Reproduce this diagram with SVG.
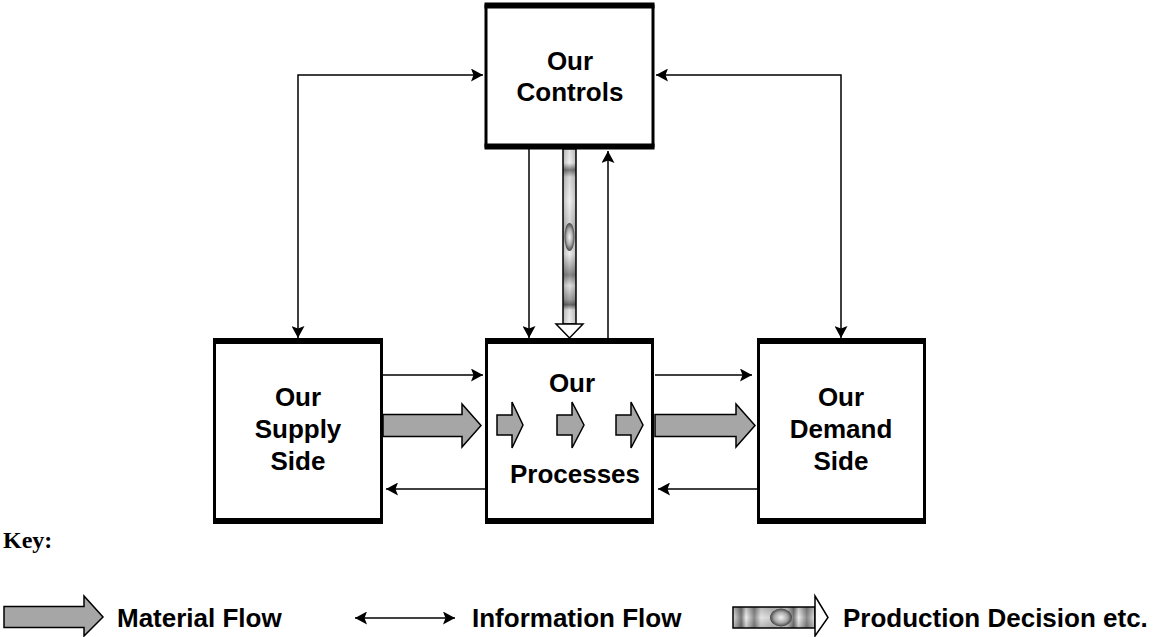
<svg xmlns="http://www.w3.org/2000/svg" width="1156" height="637" viewBox="0 0 1156 637">
  <style>
    .box { fill: #ffffff; stroke: #000000; stroke-width: 3; }
    .edge { stroke: #000000; stroke-width: 6; stroke-linecap: butt; }
    .label { font-family: "Liberation Sans", Arial, sans-serif; font-weight: bold; font-size: 26px; fill: #000000; text-anchor: middle; }
    .key { font-family: "Liberation Sans", Arial, sans-serif; font-weight: bold; font-size: 26px; fill: #000000; }
    .info { fill: none; stroke: #000000; stroke-width: 1.5; marker-end: url(#head); }
    .info2 { fill: none; stroke: #000000; stroke-width: 1.5; marker-start: url(#headStart); marker-end: url(#head); }
    .material { fill: #a6a6a6; stroke: #000000; stroke-width: 1.5; stroke-linejoin: miter; }
    .hollow { fill: #ffffff; stroke: #000000; stroke-width: 1.5; }
  </style>
  <defs>
    <marker id="head" markerUnits="userSpaceOnUse" markerWidth="13" markerHeight="13" refX="12" refY="6.5" orient="auto">
      <path d="M0,0 L12,6.5 L0,13 L2.5,6.5 z" fill="#000000"/>
    </marker>
    <marker id="headStart" markerUnits="userSpaceOnUse" markerWidth="13" markerHeight="13" refX="12" refY="6.5" orient="auto-start-reverse">
      <path d="M0,0 L12,6.5 L0,13 L2.5,6.5 z" fill="#000000"/>
    </marker>
    <!-- banded texture along the decision arrow's shaft -->
    <linearGradient id="bandsV" x1="0" y1="0" x2="0" y2="1">
      <stop offset="0" stop-color="#e0e0e0"/>
      <stop offset="0.08" stop-color="#eeeeee"/>
      <stop offset="0.12" stop-color="#777777"/>
      <stop offset="0.16" stop-color="#d8d8d8"/>
      <stop offset="0.3" stop-color="#f0f0f0"/>
      <stop offset="0.45" stop-color="#cccccc"/>
      <stop offset="0.6" stop-color="#eeeeee"/>
      <stop offset="0.72" stop-color="#888888"/>
      <stop offset="0.78" stop-color="#e0e0e0"/>
      <stop offset="0.86" stop-color="#a0a0a0"/>
      <stop offset="0.89" stop-color="#666666"/>
      <stop offset="0.92" stop-color="#e4e4e4"/>
      <stop offset="1" stop-color="#f0f0f0"/>
    </linearGradient>
    <linearGradient id="bandsH" x1="0" y1="0" x2="1" y2="0">
      <stop offset="0" stop-color="#e0e0e0"/>
      <stop offset="0.1" stop-color="#777777"/>
      <stop offset="0.16" stop-color="#eeeeee"/>
      <stop offset="0.26" stop-color="#888888"/>
      <stop offset="0.34" stop-color="#e4e4e4"/>
      <stop offset="0.48" stop-color="#cccccc"/>
      <stop offset="0.66" stop-color="#d8d8d8"/>
      <stop offset="0.74" stop-color="#777777"/>
      <stop offset="0.8" stop-color="#eeeeee"/>
      <stop offset="0.9" stop-color="#888888"/>
      <stop offset="1" stop-color="#e4e4e4"/>
    </linearGradient>
    <linearGradient id="shadeX" x1="0" y1="0" x2="1" y2="0">
      <stop offset="0" stop-color="#000000" stop-opacity="0.2"/>
      <stop offset="0.5" stop-color="#000000" stop-opacity="0"/>
      <stop offset="1" stop-color="#000000" stop-opacity="0.2"/>
    </linearGradient>
    <linearGradient id="shadeY" x1="0" y1="0" x2="0" y2="1">
      <stop offset="0" stop-color="#000000" stop-opacity="0.2"/>
      <stop offset="0.5" stop-color="#000000" stop-opacity="0"/>
      <stop offset="1" stop-color="#000000" stop-opacity="0.2"/>
    </linearGradient>
    <radialGradient id="bead" cx="0.5" cy="0.5" r="0.5">
      <stop offset="0" stop-color="#f4f4f4"/>
      <stop offset="0.6" stop-color="#a8a8a8"/>
      <stop offset="1" stop-color="#444444"/>
    </radialGradient>
  </defs>

  <!-- nodes -->
  <g id="controls">
    <rect class="box" x="486" y="6" width="167" height="140"/>
    <line class="edge" x1="484.5" y1="5.5" x2="654.5" y2="5.5"/>
    <line class="edge" x1="484.5" y1="146.5" x2="654.5" y2="146.5"/>
    <text class="label" x="570" y="70">Our</text>
    <text class="label" x="570" y="101">Controls</text>
  </g>

  <g id="supply">
    <rect class="box" x="214.5" y="341" width="167" height="180"/>
    <line class="edge" x1="213" y1="341" x2="383" y2="341"/>
    <line class="edge" x1="213" y1="521" x2="383" y2="521"/>
    <text class="label" x="298" y="406">Our</text>
    <text class="label" x="298" y="438">Supply</text>
    <text class="label" x="298" y="470">Side</text>
  </g>

  <g id="processes">
    <rect class="box" x="486.5" y="341" width="166" height="180"/>
    <line class="edge" x1="485" y1="341" x2="654" y2="341"/>
    <line class="edge" x1="485" y1="521" x2="654" y2="521"/>
    <text class="label" x="572" y="392">Our</text>
    <text class="label" x="575" y="483" font-size="27">Processes</text>
    <!-- material moving through the processes -->
    <path class="material" d="M497,415 H512 V402 L523,425 L512,448 V435 H497 Z"/>
    <path class="material" d="M557,415 H572 V402 L584,425 L572,448 V435 H557 Z"/>
    <path class="material" d="M616,415 H631 V402 L643,425 L631,448 V435 H616 Z"/>
  </g>

  <g id="demand">
    <rect class="box" x="758.5" y="341" width="166" height="180"/>
    <line class="edge" x1="757" y1="341" x2="926" y2="341"/>
    <line class="edge" x1="757" y1="521" x2="926" y2="521"/>
    <text class="label" x="841" y="406">Our</text>
    <text class="label" x="841" y="438">Demand</text>
    <text class="label" x="841" y="470">Side</text>
  </g>

  <!-- connectors -->
  <g id="connectors">
    <!-- information flow -->
    <path class="info2" d="M298,338 V75 H483"/>
    <path class="info2" d="M656,75 H841 V338"/>
    <path class="info" d="M529,149 V338"/>
    <path class="info" d="M608,339 V151"/>
    <path class="info" d="M383,375 H483"/>
    <path class="info" d="M485,489 H386"/>
    <path class="info" d="M655,375 H752"/>
    <path class="info" d="M757,489 H658"/>
    <!-- material flow -->
    <path class="material" d="M383,414.5 H462 V404 L481,425.5 L462,447 V436.5 H383 Z"/>
    <path class="material" d="M655,414.5 H736 V404 L755,425.5 L736,447 V436.5 H655 Z"/>
    <!-- production decision -->
    <g id="decision">
      <rect x="563" y="149" width="13" height="175" fill="url(#bandsV)" stroke="#000000" stroke-width="1.5"/>
      <rect x="563" y="149" width="13" height="175" fill="url(#shadeX)"/>
      <ellipse cx="569.5" cy="237" rx="5" ry="14" fill="url(#bead)"/>
      <path class="hollow" d="M556,324 H583 L569.5,338 Z"/>
    </g>
  </g>

  <!-- key -->
  <g id="legend">
    <text x="3" y="548" font-family="'Liberation Serif', 'Times New Roman', serif" font-weight="bold" font-size="24">Key:</text>
    <path class="material" d="M4,606.5 H84 V596 L103,617 L84,636 V627.5 H4 Z"/>
    <text class="key" x="117" y="627">Material Flow</text>
    <path class="info2" d="M355,618 H455"/>
    <text class="key" x="472" y="627">Information Flow</text>
    <rect x="733" y="607" width="82" height="21" fill="url(#bandsH)" stroke="#000000" stroke-width="1.5"/>
    <rect x="733" y="607" width="82" height="21" fill="url(#shadeY)"/>
    <ellipse cx="781" cy="617.5" rx="11" ry="9" fill="url(#bead)"/>
    <path class="hollow" d="M815,596 L828,617.5 L815,636 Z"/>
    <text class="key" x="843" y="627">Production Decision etc.</text>
  </g>
</svg>
